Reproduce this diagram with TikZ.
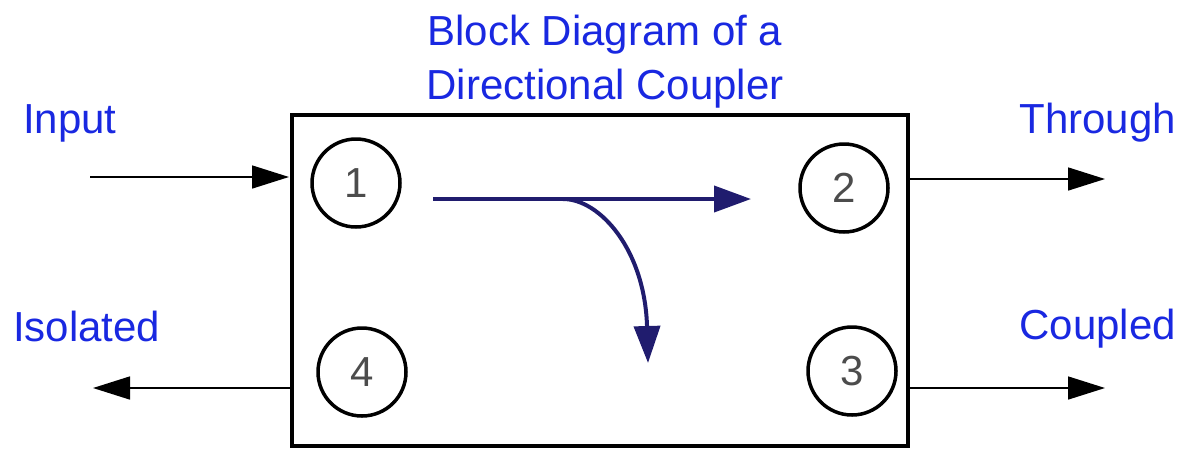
\documentclass[tikz,border=0pt]{standalone}
\usepackage{fontspec}
\setmainfont{Liberation Sans}
\usetikzlibrary{arrows.meta}
\definecolor{lblblue}{RGB}{25,40,225}
\definecolor{navyarrow}{RGB}{32,28,110}
\tikzset{
  lbl/.style={text=lblblue, inner sep=0pt, font=\fontsize{42}{50}\selectfont},
  port/.style={draw=black, circle, line width=3.5pt, minimum size=88pt, inner sep=0pt,
    text=black!70, font=\fontsize{42}{50}\selectfont},
  blkarrow/.style={line width=1.6pt, -{Triangle[length=37pt,width=23pt]}},
  flowarrow/.style={draw=navyarrow, line width=4pt, -{Triangle[length=37pt,width=26pt]}},
  boxstyle/.style={draw=black, line width=3.5pt, minimum width=616pt, minimum height=331pt, inner sep=0pt}
}
\begin{document}
\begin{tikzpicture}[x=1pt,y=-1pt]
\useasboundingbox (0,0) rectangle (1182,448);
% main box
\node[boxstyle] (box) at (600,280.5) {};
% ports
\node[port] (p1) at (356,183) {1};
\node[port] (p2) at (844,188) {2};
\node[port] (p3) at (852,371) {3};
\node[port] (p4) at (362,372) {4};
% labels
\node[lbl, anchor=base] (t1) at (605,45) {Block Diagram of a};
\node[lbl, anchor=base] (t2) at (605,99) {Directional Coupler};
\node[lbl, anchor=base west] (input) at (23,133) {Input};
\node[lbl, anchor=base west] (isolated) at (13,341) {Isolated};
\node[lbl, anchor=base east] (through) at (1176,133) {Through};
\node[lbl, anchor=base east] (coupled) at (1176,339) {Coupled};
% external arrow endpoints
\coordinate (inS) at (90,177);
\coordinate (inE) at (289,177);
\coordinate (thE) at (1105,179);
\coordinate (cpE) at (1105,388);
\coordinate (isE) at (93,388);
\draw[blkarrow] (inS) -- (inE);
\draw[blkarrow] (box.east |- thE) -- (thE);
\draw[blkarrow] (box.east |- cpE) -- (cpE);
\draw[blkarrow] (box.west |- isE) -- (isE);
% internal flow arrows
\coordinate (fS) at (433,199);
\coordinate (fE) at (751,199);
\coordinate (cS) at (563,199);
\coordinate (cE) at (648,363);
\draw[flowarrow] (fS) -- (fE);
\draw[flowarrow] (cS) .. controls (600,199) and (645,250) .. (cE);
\end{tikzpicture}
\end{document}
